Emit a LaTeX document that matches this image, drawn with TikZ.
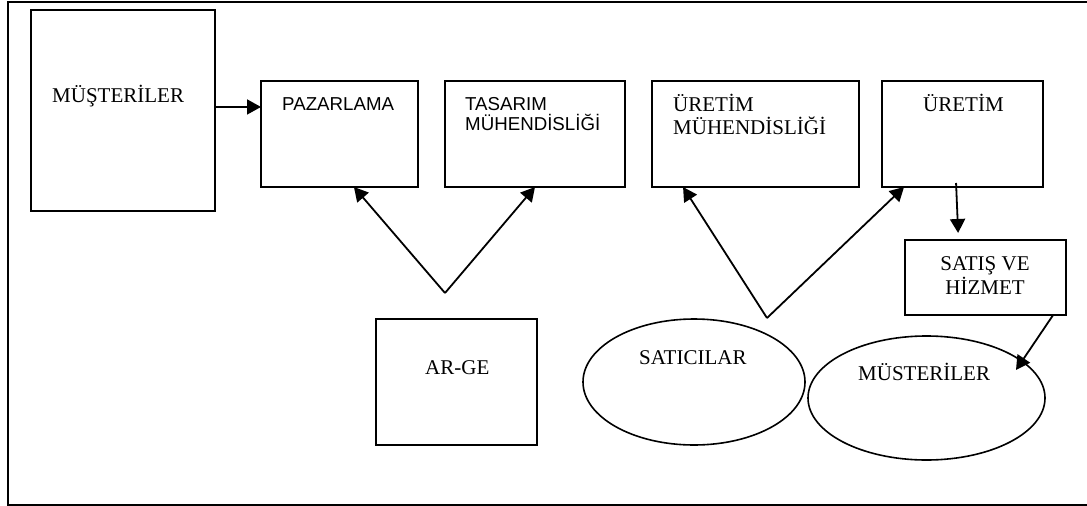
\documentclass[tikz,border=0pt]{standalone}
\usepackage{fontspec}
\setmainfont{Liberation Serif}
\newfontfamily\arialf{Liberation Sans}
\usetikzlibrary{arrows.meta,calc,shapes.geometric}
\tikzset{
  rbox/.style={draw,line width=2pt,rectangle,inner sep=0pt,outer sep=0pt},
  ebox/.style={draw,line width=1.6pt,ellipse,inner sep=0pt,outer sep=0pt},
  arr/.style={line width=1.8pt,-{Triangle[length=14pt,width=15pt]}},
  plain/.style={line width=1.8pt},
  stxt/.style={inner sep=0pt,anchor=base west,font=\fontsize{21}{25}\selectfont},
  atxt/.style={inner sep=0pt,anchor=base west,font=\arialf\fontsize{18.7}{22}\selectfont},
}
\begin{document}
\begin{tikzpicture}[x=1pt,y=-1pt]
\useasboundingbox (0,0) rectangle (1087,506);
% outer frame (right side runs off the picture)
\draw[line width=2pt] (1087,1.5) -- (8,1.5) -- (8,504.5) -- (1087,504.5);

% boxes
\node[rbox,minimum width=184pt,minimum height=201pt] (m1) at (123,110.5) {};
\node[rbox,minimum width=157pt,minimum height=106pt] (paz) at (339.5,134) {};
\node[rbox,minimum width=180pt,minimum height=106pt] (tas) at (535,134) {};
\node[rbox,minimum width=207pt,minimum height=106pt] (urm) at (755.5,134) {};
\node[rbox,minimum width=161pt,minimum height=106pt] (ur) at (962.5,134) {};
\node[rbox,minimum width=161pt,minimum height=75pt] (sat) at (985.5,277.5) {};
\node[rbox,minimum width=161pt,minimum height=126pt] (arge) at (456.5,382) {};
\node[ebox,minimum width=222pt,minimum height=126pt] (satc) at (694,382) {};
\node[ebox,minimum width=237pt,minimum height=124pt] (must) at (926.5,398) {};

% texts
\node[stxt] (m1t) at (52,102) {MÜŞTERİLER};
\node[atxt] (pazt) at (282,110) {PAZARLAMA};
\node[atxt] (tast1) at (465,110) {TASARIM};
\node[atxt] (tast2) at (465,130) {MÜHENDİSLİĞİ};
\node[stxt] (urmt1) at (673,111) {ÜRETİM};
\node[stxt] (urmt2) at (673,134) {MÜHENDİSLİĞİ};
\node[stxt] (urt) at (923,111) {ÜRETİM};
\node[stxt,anchor=base] (satt1) at (985,270) {SATIŞ VE};
\node[stxt,anchor=base] (satt2) at (985,294) {HİZMET};
\node[stxt] (mustt) at (858,380) {MÜSTERİLER};
\node[stxt] (satct) at (639,364) {SATICILAR};
\node[stxt] (arget) at (425,374) {AR-GE};

% connectors
\coordinate (p1) at ($(paz.north west)!0.245!(paz.south west)$);
\draw[arr] (m1.east |- p1) -- (p1);

\coordinate (v1) at ($(arge.north)+(-11.5,-26)$);
\draw[arr] (v1) -- ($(paz.south west)!0.592!(paz.south east)$);
\draw[arr] (v1) -- (tas.south);

\coordinate (v2) at ($(satc.north)+(73,-1)$);
\draw[arr] (v2) -- ($(urm.south west)!0.15!(urm.south east)$);
\draw[arr] (v2) -- ($(ur.south west)!0.137!(ur.south east)$);

\draw[arr] ($(ur.south west)!0.46!(ur.south east)+(0,-4)$) -- ($(sat.north west)!0.33!(sat.north east)+(0,-7)$);
\draw[arr] ($(sat.south west)!0.92!(sat.south east)$) -- ($(must.center)+(89.5,-28)$);
\end{tikzpicture}
\end{document}
